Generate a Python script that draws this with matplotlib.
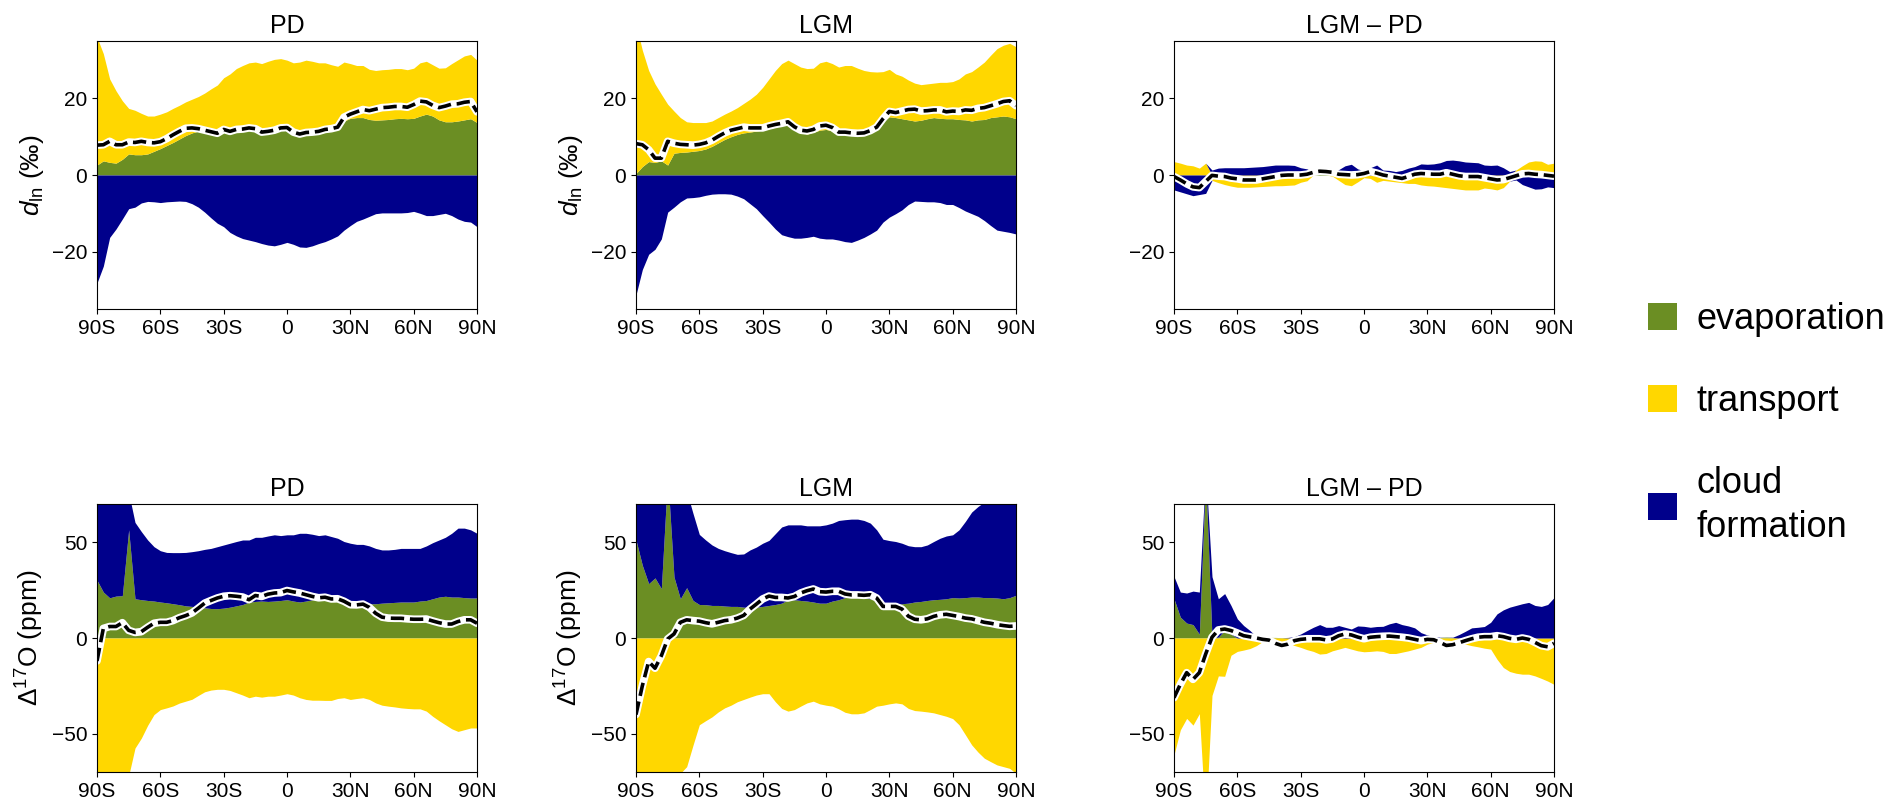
import numpy as np
import matplotlib.pyplot as plt
from matplotlib.patches import Patch

plt.rcParams['font.family'] = ['Liberation Sans', 'DejaVu Sans']
plt.rcParams['mathtext.fontset'] = 'custom'
plt.rcParams['mathtext.rm'] = 'Liberation Sans'
plt.rcParams['mathtext.it'] = 'Liberation Sans:italic'

# latitude grid (3 deg)
lat = np.arange(-90, 91, 3)

# ---- d_ln (permil), top row ----
dln_pd_evap = [2.6, 3.7, 3.3, 3.1, 4.1, 5.5, 5.3, 5.3, 5.5, 6.2,
               6.9, 7.7, 8.5, 9.4, 10.3, 11.0, 11.5, 11.7, 11.9, 11.9,
               11.9, 12.1, 12.1, 12.2, 12.3, 12.3, 11.9, 10.8, 11.5, 12.1,
               12.8, 11.9, 11.0, 10.6, 10.6, 10.8, 11.2, 11.5, 11.9, 14.1,
               14.8, 15.0, 15.0, 14.5, 14.3, 14.4, 14.5, 14.7, 14.8, 14.7,
               14.8, 15.4, 15.9, 15.4, 14.4, 13.9, 13.9, 14.1, 14.4, 14.7,
               13.7]
dln_pd_trans = [33.4, 28.0, 21.8, 18.9, 15.3, 11.9, 11.6, 10.8, 9.9, 9.2,
                9.0, 8.8, 8.9, 8.8, 8.8, 8.8, 9.0, 9.7, 10.6, 11.6,
                13.5, 14.3, 15.7, 16.4, 17.0, 17.2, 17.2, 18.9, 18.7, 18.3,
                17.2, 17.4, 18.5, 19.4, 19.1, 18.5, 18.1, 17.3, 16.5, 15.4,
                14.3, 13.6, 13.6, 13.1, 13.0, 13.1, 13.1, 13.1, 13.0, 12.8,
                13.1, 13.9, 13.8, 13.4, 13.5, 14.1, 15.2, 16.0, 16.7, 16.8,
                16.3]
dln_pd_cloud = [-28.2, -23.8, -16.3, -14.1, -11.5, -8.8, -8.4, -7.3, -6.9, -7.0,
                -7.2, -7.0, -6.9, -6.8, -6.9, -7.5, -8.4, -9.7, -11.2, -12.6,
                -13.5, -15.0, -15.9, -16.6, -17.0, -17.4, -17.9, -18.3, -18.5, -18.1,
                -17.6, -18.1, -18.8, -18.9, -18.5, -17.9, -17.4, -16.7, -15.9, -14.4,
                -13.2, -12.1, -11.5, -10.8, -10.1, -9.9, -9.9, -9.9, -9.9, -9.8,
                -9.5, -10.0, -10.6, -10.6, -10.3, -10.0, -10.6, -11.5, -12.1, -12.3,
                -13.5]

dln_lgm_evap = [0.4, 2.2, 3.5, 3.3, 3.7, 2.6, 5.7, 5.9, 6.0, 6.2,
                6.4, 6.8, 7.5, 8.4, 9.3, 10.0, 10.6, 11.0, 11.2, 11.5,
                11.7, 12.1, 12.5, 13.0, 13.2, 12.3, 11.2, 10.7, 11.2, 11.7,
                11.9, 11.5, 10.8, 10.6, 10.4, 10.1, 10.3, 11.0, 12.3, 14.1,
                15.2, 15.0, 14.7, 14.4, 14.1, 14.3, 14.7, 15.0, 14.8, 14.7,
                14.7, 14.5, 14.4, 14.1, 14.4, 14.5, 15.0, 15.2, 15.4, 15.2,
                14.7]
dln_lgm_trans = [39.1, 30.4, 23.8, 20.5, 17.4, 15.9, 11.0, 9.1, 7.9, 7.5,
                 7.3, 6.9, 6.6, 6.6, 6.6, 6.7, 7.0, 7.7, 8.6, 9.6,
                 11.2, 13.0, 14.8, 16.1, 16.8, 16.8, 17.0, 17.1, 16.7, 17.6,
                 17.8, 17.6, 17.4, 18.0, 18.2, 17.8, 17.0, 16.0, 14.6, 12.9,
                 12.4, 11.4, 11.1, 10.4, 9.9, 9.3, 9.1, 9.0, 9.4, 9.5,
                 9.7, 10.6, 12.0, 12.9, 13.8, 15.0, 16.3, 17.8, 18.5, 19.2,
                 18.8]
dln_lgm_cloud = [-31.3, -24.7, -20.7, -19.4, -16.7, -9.7, -8.4, -7.0, -6.0, -5.9,
                 -5.7, -5.3, -5.0, -4.9, -4.9, -5.0, -5.5, -6.2, -7.5, -8.8,
                 -10.6, -12.3, -14.1, -15.6, -16.1, -16.5, -16.5, -16.3, -16.0, -16.5,
                 -16.7, -16.7, -17.0, -17.4, -17.6, -17.0, -16.3, -15.4, -14.4, -12.3,
                 -11.0, -10.1, -9.1, -7.7, -6.8, -6.9, -7.0, -7.0, -7.2, -7.7,
                 -7.7, -8.5, -9.4, -10.1, -10.8, -11.9, -13.2, -14.4, -14.7, -15.0,
                 -15.4]

dln_diff_evap = [0, 0, 0, 0, 0, 0, 0, 0, 0, 0,
                 0, 0, 0, 0, 0, 0, 0, 0, 0, 0,
                 0, 0, 0.5, 0.6, 0.6, 0.3, 0, 0, 0, 0,
                 0, 0, 0, 0, 0, 0, 0, 0, 0, 0,
                 0, 0, 0, 0, 0, 0, 0, 0, 0, 0,
                 0, 0, 0, 0, 0, 0, 0, 0, 0, 0,
                 0]
dln_diff_trans = [3.5, 3.1, 2.6, 2.4, 1.8, 3.1, -1.4, -2.0, -2.5, -2.9,
                  -3.2, -3.2, -3.2, -3.1, -3.0, -2.9, -2.8, -2.8, -2.7, -2.6,
                  -1.9, -1.5, 0.0, 0.0, 0.0, -0.3, -1.4, -2.5, -2.8, -1.8,
                  -0.7, -0.9, -1.9, -1.4, -1.6, -1.8, -2.0, -2.2, -2.2, -2.6,
                  -2.8, -2.9, -3.1, -3.3, -3.5, -3.7, -3.9, -3.9, -3.9, -3.4,
                  -3.6, -3.9, -3.3, -1.6, 1.3, 2.4, 3.4, 3.7, 3.6, 2.8,
                  3.1]
dln_diff_cloud = [-3.9, -4.4, -4.9, -5.4, -5.1, -4.8, 1.3, 1.8, 1.9, 1.9,
                  1.9, 1.9, 2.0, 2.1, 2.2, 2.4, 2.6, 2.6, 2.6, 2.5,
                  1.9, 1.6, 0.3, 0.3, 0.3, 0.6, 1.4, 2.4, 2.8, 1.6,
                  1.1, 1.9, 2.6, 1.3, 1.2, 0.9, 1.2, 1.8, 2.2, 2.9,
                  2.8, 2.9, 3.2, 3.8, 3.9, 3.7, 3.4, 3.3, 3.2, 2.6,
                  2.5, 2.6, 1.9, 0.9, -1.3, -2.5, -3.1, -3.7, -3.6, -3.1,
                  -3.3]
dln_diff_total = [-0.4, -1.3, -2.3, -3.1, -3.3, -1.7, -0.1, -0.3, -0.4, -0.8,
                  -1.0, -1.3, -1.3, -1.3, -1.0, -0.7, -0.4, -0.1, 0.0, 0.0,
                  0.0, 0.2, 0.7, 1.0, 0.9, 0.7, 0.2, 0.1, 0.0, 0.1,
                  0.4, 0.9, 0.5, 0.0, -0.3, -0.6, -0.9, -0.4, 0.2, 0.4,
                  0.3, 0.2, 0.2, 0.6, 0.2, -0.2, -0.4, -0.4, -0.4, -0.7,
                  -1.0, -1.3, -1.2, -0.7, -0.2, 0.3, 0.4, 0.2, 0.1, -0.1,
                  -0.3]

# ---- Delta17O (ppm), bottom row ----
d17o_pd_evap = [30.2, 24.0, 21.0, 21.9, 22.1, 56.5, 20.5, 20.0, 19.6, 19.3,
                18.8, 18.4, 17.9, 17.4, 16.8, 16.5, 16.1, 15.8, 15.4, 15.3,
                15.6, 16.1, 16.8, 17.5, 18.8, 19.1, 19.3, 19.1, 19.3, 19.6,
                20.0, 19.3, 18.8, 19.3, 20.0, 20.5, 20.5, 20.5, 20.2, 19.6,
                19.3, 18.8, 18.2, 17.9, 17.9, 18.2, 18.4, 18.6, 18.8, 18.8,
                18.8, 19.3, 19.6, 20.5, 21.4, 21.8, 21.4, 21.4, 21.1, 20.9,
                20.9]
d17o_pd_trans = [-87.0, -73.0, -72.0, -72.0, -72.0, -72.0, -57.5, -52.3, -45.6, -40.0,
                 -37.4, -36.5, -35.5, -34.0, -33.0, -32.0, -30.0, -28.1, -27.2, -26.8,
                 -26.8, -27.4, -28.6, -29.8, -31.2, -30.4, -30.9, -30.4, -30.4, -29.8,
                 -29.1, -29.8, -31.2, -32.1, -32.5, -32.5, -32.6, -32.6, -31.6, -31.2,
                 -32.1, -31.6, -31.2, -32.1, -33.9, -35.1, -35.6, -36.0, -36.5, -36.8,
                 -37.0, -37.0, -38.2, -40.9, -43.2, -45.3, -47.4, -48.8, -47.9, -47.0,
                 -47.0]
d17o_pd_cloud = [44.8, 54.0, 57.0, 56.1, 57.9, 19.5, 39.9, 35.6, 31.6, 28.4,
                 26.8, 26.3, 26.7, 27.2, 27.9, 28.6, 29.5, 30.5, 31.4, 32.4,
                 33.0, 33.4, 33.6, 33.7, 32.4, 33.5, 33.3, 34.2, 34.6, 33.9,
                 33.9, 34.6, 35.9, 35.4, 34.2, 33.0, 33.4, 32.5, 31.9, 30.8,
                 30.2, 30.1, 30.7, 30.2, 28.9, 27.8, 27.6, 27.7, 28.0, 28.0,
                 28.0, 27.5, 28.5, 29.3, 29.8, 30.8, 33.3, 36.0, 36.3, 35.6,
                 33.8]

d17o_lgm_evap = [51.2, 38.0, 28.4, 31.4, 25.8, 85.0, 31.9, 20.5, 26.3, 19.6,
                 17.5, 17.4, 17.0, 17.0, 16.7, 16.5, 16.5, 16.1, 16.1, 16.1,
                 16.5, 17.0, 17.5, 18.2, 20.0, 20.0, 19.6, 19.3, 18.8, 18.2,
                 18.2, 19.3, 20.0, 21.1, 21.4, 21.4, 21.1, 20.5, 20.0, 18.2,
                 17.0, 17.5, 17.9, 18.2, 18.8, 19.1, 19.6, 20.0, 20.2, 20.5,
                 21.1, 20.9, 21.1, 21.4, 21.4, 21.1, 21.1, 20.9, 20.5, 21.1,
                 22.3]
d17o_lgm_trans = [-115.0, -100.0, -87.3, -90.8, -84.3, -88.5, -72.9, -70.7, -67.2, -56.0,
                  -45.3, -43.2, -41.2, -38.6, -36.5, -35.1, -33.3, -32.1, -30.9, -29.8,
                  -29.1, -29.1, -33.3, -36.8, -38.2, -37.4, -35.6, -33.9, -33.0, -34.4,
                  -35.1, -35.6, -37.0, -38.8, -39.6, -39.6, -39.1, -37.4, -35.6, -35.1,
                  -34.4, -33.9, -34.4, -36.8, -37.9, -38.2, -38.6, -39.1, -40.0, -40.9,
                  -42.1, -45.3, -50.5, -55.8, -59.6, -62.8, -64.6, -66.3, -67.2, -68.1,
                  -70.7]
d17o_lgm_cloud = [23.8, 37.0, 46.6, 43.6, 49.2, 3.0, 43.1, 58.4, 50.4, 45.5,
                  36.6, 33.8, 31.6, 29.8, 28.9, 28.1, 27.2, 27.8, 29.9, 31.4,
                  33.0, 34.0, 37.0, 39.8, 39.1, 39.1, 39.5, 39.3, 39.8, 40.4,
                  40.9, 40.7, 41.4, 40.7, 40.7, 40.7, 40.3, 39.5, 36.5, 33.4,
                  33.9, 32.9, 31.6, 30.0, 28.9, 28.6, 29.0, 30.4, 31.9, 32.8,
                  32.8, 35.6, 39.8, 44.4, 47.3, 49.9, 51.2, 52.4, 53.2, 53.1,
                  54.7]

d17o_diff_evap = [20.5, 10.9, 7.8, 7.0, 2.0, 85.0, 0, 0.5, 4.0, 2.0,
                  0, 0, 0, 0, 0.3, 0.3, 0.3, 0.2, 0.1, 0,
                  0, 0, 0, 0, 0, 0, 0, 0, 0, 0,
                  0, 0, 0, 0, 0, 0, 0, 0, 0, 0,
                  0, 0, 0.3, 0.5, 0.2, 0, 0, 0, 0, 0,
                  0, 0, 0, 0, 0, 0, 0, 0, 0, 0,
                  0]
d17o_diff_trans = [-61.0, -48.0, -42.0, -45.5, -39.5, -96.4, -30.0, -19.8, -20.0, -9.0,
                   -7.0, -6.3, -5.5, -4.0, -1.8, -1.2, -1.4, -2.6, -3.3, -3.9,
                   -4.9, -6.1, -7.0, -8.4, -8.1, -6.7, -5.8, -4.9, -5.8, -6.7,
                   -7.2, -7.0, -6.7, -7.0, -8.1, -8.1, -7.4, -6.7, -5.8, -4.9,
                   -3.2, -2.3, -1.1, -1.1, -1.4, -2.3, -3.2, -4.0, -4.6, -5.3,
                   -5.8, -11.1, -15.4, -17.5, -18.4, -18.9, -18.9, -19.8, -21.1, -22.5,
                   -24.2]
d17o_diff_cloud = [11.6, 13.1, 15.7, 17.5, 22.0, 3.0, 32.0, 20.0, 19.2, 15.0,
                   10.0, 6.5, 3.9, 0.7, 0, 0, 0, 0, 0.2, 0.7,
                   2.1, 3.9, 5.6, 7.0, 5.6, 5.6, 6.5, 5.6, 4.7, 6.3,
                   6.1, 5.6, 6.0, 6.1, 7.4, 8.2, 7.0, 6.3, 5.3, 2.8,
                   1.6, 0.7, 0.1, 0, 0.2, 1.8, 3.5, 5.3, 5.6, 6.0,
                   8.2, 12.6, 14.7, 16.1, 17.0, 17.9, 18.6, 17.0, 16.5, 17.5,
                   21.1]
d17o_diff_total = [-31.2, -24.2, -18.1, -21.6, -18.1, -8.4, 0.4, 4.2, 4.7, 3.9,
                   2.6, 1.2, 0.6, 0.0, -0.7, -1.1, -2.8, -3.9, -3.2, -1.4,
                   -0.7, -0.4, -0.4, -0.4, -1.0, -0.5, 1.2, 2.1, 1.6, 0.5,
                   -0.4, 0.4, 0.7, 0.9, 1.0, 0.7, 0.4, 0.0, -0.7, -1.4,
                   -0.7, -0.9, -2.3, -3.9, -3.5, -2.5, -1.4, -0.4, 0.4, 0.7,
                   0.7, 1.2, 0.7, -0.2, -0.7, 0.0, -0.7, -2.3, -4.0, -4.6,
                   -2.8]

C_EVAP, C_TRANS, C_CLOUD = 'olivedrab', 'gold', 'darkblue'
xticks = [-90, -60, -30, 0, 30, 60, 90]
xlabels = ['90S', '60S', '30S', '0', '30N', '60N', '90N']


def stacked(ax, evap, trans, cloud, total=None):
    # positive parts stack upward from 0, negative parts downward
    up = np.zeros(len(lat))
    down = np.zeros(len(lat))
    for vals, c in ((evap, C_EVAP), (trans, C_TRANS), (cloud, C_CLOUD)):
        vals = np.asarray(vals, dtype=float)
        pos = np.clip(vals, 0, None)
        neg = np.clip(vals, None, 0)
        ax.fill_between(lat, up, up + pos, color=c, lw=0)
        ax.fill_between(lat, down, down + neg, color=c, lw=0)
        up += pos
        down += neg
    if total is None:
        total = np.asarray(evap) + np.asarray(trans) + np.asarray(cloud)
    ax.plot(lat, total, color='white', lw=5.5, solid_capstyle='round')
    ax.plot(lat, total, color='black', lw=2.6, ls='--')


fig = plt.figure(figsize=(18.99, 8.05), dpi=100)

lefts = [97 / 1899, 636 / 1899, 1174 / 1899]
bottoms = [496 / 805, 33 / 805]
w, h = 380 / 1899, 268 / 805

panels = [
    (0, 0, 'PD', dln_pd_evap, dln_pd_trans, dln_pd_cloud, None),
    (0, 1, 'LGM', dln_lgm_evap, dln_lgm_trans, dln_lgm_cloud, None),
    (0, 2, 'LGM – PD', dln_diff_evap, dln_diff_trans, dln_diff_cloud, dln_diff_total),
    (1, 0, 'PD', d17o_pd_evap, d17o_pd_trans, d17o_pd_cloud, None),
    (1, 1, 'LGM', d17o_lgm_evap, d17o_lgm_trans, d17o_lgm_cloud, None),
    (1, 2, 'LGM – PD', d17o_diff_evap, d17o_diff_trans, d17o_diff_cloud, d17o_diff_total),
]

for row, col, title, ev, tr, cl, tot in panels:
    ax = fig.add_axes([lefts[col], bottoms[row], w, h])
    stacked(ax, ev, tr, cl, tot)
    ax.set_xlim(-90, 90)
    ax.set_xticks(xticks)
    ax.set_xticklabels(xlabels)
    if row == 0:
        ax.set_ylim(-35, 35)
        ax.set_yticks([-20, 0, 20])
        if col < 2:
            ax.set_ylabel(r'$d_{\mathrm{ln}}$ (‰)', fontsize=19)
    else:
        ax.set_ylim(-70, 70)
        ax.set_yticks([-50, 0, 50])
        if col < 2:
            ax.set_ylabel(r'$\Delta^{17}$O (ppm)', fontsize=19)
    ax.set_title(title, fontsize=18)
    ax.tick_params(labelsize=15)

handles = [Patch(facecolor=C_EVAP, edgecolor='none'),
           Patch(facecolor=C_TRANS, edgecolor='none'),
           Patch(facecolor=C_CLOUD, edgecolor='none')]
leg = fig.legend(handles, ['evaporation', 'transport', 'cloud\nformation'],
                 loc='upper left', bbox_to_anchor=(1648 / 1899, 1 - 302 / 805),
                 frameon=False, fontsize=26, handlelength=0.8, handleheight=0.8,
                 handletextpad=0.55, labelspacing=1.3, borderpad=0, borderaxespad=0)
for t in leg.get_texts():
    t.set_linespacing(1.35)

fig.savefig('out.png', dpi=100)
